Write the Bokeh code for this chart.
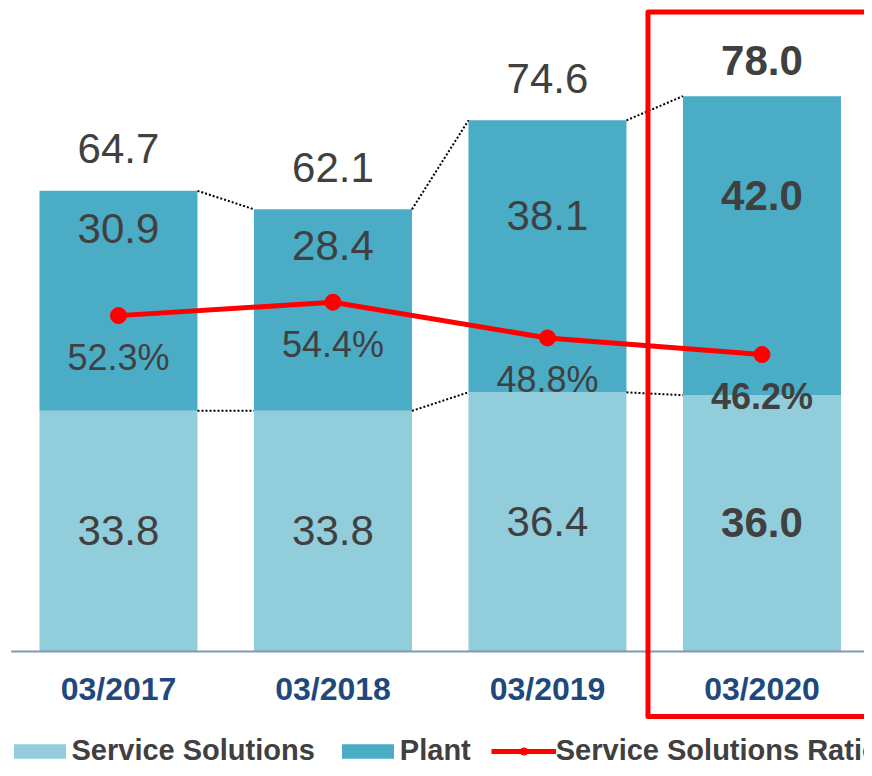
import numpy as np
from bokeh.plotting import figure
from bokeh.models import ColumnDataSource, Range1d, Legend, LegendItem
from bokeh.core.properties import value
from bokeh.embed import file_html
from bokeh.resources import INLINE

# ---- data ----
categories = ["03/2017", "03/2018", "03/2019", "03/2020"]
service = [33.8, 33.8, 36.4, 36.0]
plant = [30.9, 28.4, 38.1, 42.0]
totals = [64.7, 62.1, 74.6, 78.0]
ratio = [52.3, 54.4, 48.8, 46.2]
highlight = 3  # index of highlighted year

# ---- layout constants ----
PX_Y = 7.12     # pixels per unit (primary axis)
PX_R = 6.38     # pixels per % (ratio axis)
BAR_W = 0.7366
plant_label_y = [59.3, 56.9, 61.2, 63.9]
FONT = "Liberation Sans"
LIGHT = "#92CDDC"
DARK = "#4BACC6"
TXT = "#404040"
RED = "#FF0000"

x = np.arange(len(categories))
n = len(categories)
styles = ["bold" if i == highlight else "normal" for i in range(n)]

p = figure(width=864, height=768, output_backend="svg", toolbar_location=None,
           x_range=Range1d(-0.5501, 3.478), y_range=Range1d(-16.43, 91.43),
           x_axis_location=None, y_axis_location=None, min_border=0,
           outline_line_color=None)
p.extra_y_ranges = {"ratio": Range1d(-18.68, 101.69)}
p.xgrid.grid_line_color = None
p.ygrid.grid_line_color = None

src = ColumnDataSource(dict(
    x=x, service=service, plant=plant, totals=totals, ratio=ratio,
    cat=categories, style=styles,
    service_lbl=[f"{v:.1f}" for v in service],
    plant_lbl=[f"{v:.1f}" for v in plant],
    total_lbl=[f"{v:.1f}" for v in totals],
    ratio_lbl=[f"{v:.1f}%" for v in ratio],
    service_y=[v / 2 + 0.7 / PX_Y for v in service],
    plant_y=[v + 0.7 / PX_Y for v in plant_label_y],
    total_y=[t + (36 if i == highlight else 42) / PX_Y for i, t in enumerate(totals)],
    ratio_y=[r - 42 / PX_R for r in ratio],
    cat_y=[-37 / PX_Y] * n,
))

bar_s = p.vbar(x="x", bottom=0, top="service", width=BAR_W, fill_color=LIGHT,
               line_color=None, source=src)
bar_p = p.vbar(x="x", bottom="service", top="totals", width=BAR_W, fill_color=DARK,
               line_color=None, source=src)

# dotted connectors
x0 = [i + BAR_W / 2 for i in range(n - 1)]
x1 = [i + 1 - BAR_W / 2 for i in range(n - 1)]
p.segment(x0=x0, y0=totals[:-1], x1=x1, y1=totals[1:], line_color="black",
          line_width=2, line_dash="2 2")
p.segment(x0=x0, y0=service[:-1], x1=x1, y1=service[1:], line_color="black",
          line_width=2, line_dash="2 2")

# baseline axis line
p.segment(x0=[-0.5], y0=[0], x1=[3.6], y1=[0], line_color="#8098B2", line_width=2)

# ratio line
ln = p.line(x="x", y="ratio", source=src, y_range_name="ratio", line_color=RED,
            line_width=5)
mk = p.scatter(x="x", y="ratio", source=src, y_range_name="ratio", size=16,
               fill_color=RED, line_color=RED)

common = dict(text_font=value(FONT), text_align="center",
              text_baseline="alphabetic", source=src)
p.text(x="x", y="service_y", text="service_lbl", text_font_size="42px",
       text_color=TXT, text_font_style="style", **common)
p.text(x="x", y="plant_y", text="plant_lbl", text_font_size="42px",
       text_color=TXT, text_font_style="style", **common)
p.text(x="x", y="total_y", text="total_lbl", text_font_size="42px",
       text_color=TXT, text_font_style="style", **common)
p.text(x="x", y="ratio_y", text="ratio_lbl", text_font_size="36px",
       text_color=TXT, text_font_style="style", y_range_name="ratio", **common)
p.text(x="x", y="cat_y", text="cat", text_font_size="32px",
       text_color="#1F497D", text_font_style="bold", **common)

# highlight frame
p.quad(left=[highlight - 0.5315], right=[highlight + 0.7], top=[89.8], bottom=[-9.13],
       fill_alpha=0, line_color=RED, line_width=5, line_join="round")

legend = Legend(items=[
    LegendItem(label="Service Solutions", renderers=[bar_s]),
    LegendItem(label="Plant", renderers=[bar_p]),
    LegendItem(label="Service Solutions Ratio", renderers=[ln, mk]),
], orientation="horizontal", location=(6.5, 1),
    label_text_font=FONT, label_text_font_style="bold", label_text_font_size="29px",
    label_text_color=TXT, glyph_width=65, glyph_height=18, label_standoff=0,
    spacing=20, padding=0, margin=0, border_line_color=None,
    background_fill_alpha=0)
p.add_layout(legend)

open("out.html", "w").write(file_html(p, INLINE))
